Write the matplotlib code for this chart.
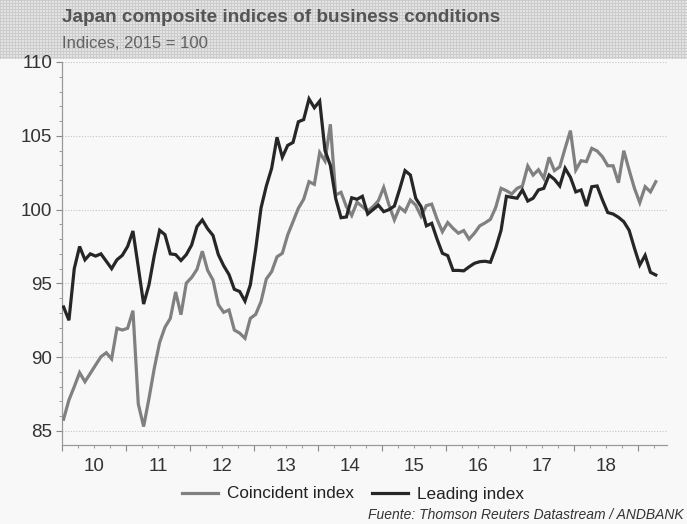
import numpy as np
import matplotlib
matplotlib.use("Agg")
import matplotlib.pyplot as plt
from matplotlib.ticker import MultipleLocator, FuncFormatter

plt.rcParams['font.family'] = ['Liberation Sans', 'DejaVu Sans']

# ---------------- data (monthly, Jan 2010 .. Apr 2019) ----------------
start_year = 2010
coincident = [
    85.8, 87.1, 88.0, 88.95, 88.34, 88.9, 89.47, 90.03, 90.3, 89.88, 91.96, 91.84,
    91.96, 93.15, 86.83, 85.3, 87.2, 89.25, 91.0, 92.03, 92.63, 94.42, 92.88, 95.02,
    95.4, 95.95, 97.18, 95.88, 95.23, 93.56, 93.04, 93.2, 91.84, 91.63, 91.28, 92.63,
    92.9, 93.76, 95.3, 95.8, 96.8, 97.04, 98.28, 99.18, 100.09, 100.7, 101.89, 101.71,
    103.86, 103.29, 105.78, 100.99, 101.17, 100.2, 99.6, 100.5, 100.2, 99.9, 100.2, 100.6,
    101.5, 100.3, 99.3, 100.15, 99.86, 100.65, 100.3, 99.55, 100.27, 100.37, 99.35, 98.5,
    99.12, 98.73, 98.4, 98.58, 98.0, 98.4, 98.9, 99.1, 99.34, 100.15, 101.44, 101.28,
    101.06, 101.44, 101.6, 102.95, 102.34, 102.7, 102.12, 103.54, 102.64, 102.9, 104.15, 105.35,
    102.68, 103.31, 103.25, 104.15, 103.97, 103.58, 102.97, 102.97, 101.82, 103.99, 102.68, 101.44,
    100.47, 101.55, 101.2, 101.89,
]
leading = [
    93.4, 92.5, 96.0, 97.5, 96.6, 97.0, 96.85, 97.0, 96.5, 96.0, 96.6, 96.9,
    97.5, 98.55, 96.1, 93.6, 94.9, 96.9, 98.6, 98.3, 97.0, 96.95, 96.55, 96.95,
    97.6, 98.85, 99.3, 98.7, 98.25, 96.95, 96.2, 95.6, 94.6, 94.45, 93.8, 94.9,
    97.3, 100.1, 101.6, 102.8, 104.9, 103.55, 104.35, 104.55, 105.95, 106.1, 107.5, 106.9,
    107.35, 104.0, 103.0, 100.75, 99.45, 99.5, 100.8, 100.7, 100.9, 99.7, 100.0, 100.3,
    99.86, 100.0, 100.24, 101.4, 102.64, 102.34, 100.77, 100.2, 98.9, 99.07, 98.0, 97.04,
    96.88, 95.88, 95.88, 95.85, 96.12, 96.36, 96.47, 96.5, 96.43, 97.4, 98.6, 100.9,
    100.83, 100.77, 101.33, 100.58, 100.77, 101.33, 101.44, 102.34, 102.05, 101.6, 102.8, 102.19,
    101.2, 101.33, 100.24, 101.55, 101.6, 100.65, 99.8, 99.7, 99.48, 99.18, 98.6, 97.38,
    96.25, 96.9, 95.75, 95.57,
]
year_labels = ['10', '11', '12', '13', '14', '15', '16', '17', '18']
series_names = ['Coincident index', 'Leading index']
title = 'Japan composite indices of business conditions'
subtitle = 'Indices, 2015 = 100'
source = 'Fuente: Thomson Reuters Datastream / ANDBANK'

# ---------------- figure ----------------
W, H = 687, 524
bg = '#f8f8f8'
fig = plt.figure(figsize=(W / 100, H / 100), dpi=100, facecolor=bg)

# patterned header band
band_h = 59
hy, hx = np.mgrid[0:band_h, 0:W]
pat = np.full((band_h, W), 0.89)
pat[(hy % 3 == 0) | (hx % 3 == 0)] = 0.80
hax = fig.add_axes([0, 1 - band_h / H, 1, band_h / H], zorder=0)
hax.imshow(pat, cmap='gray', vmin=0, vmax=1, aspect='auto', interpolation='nearest')
hax.axis('off')

fig.text(62 / W, 1 - 18 / H, title, fontsize=13.7, fontweight='bold',
         color='#555555', ha='left', va='center', zorder=5)
fig.text(62 / W, 1 - 44 / H, subtitle, fontsize=12, color='#626262',
         ha='left', va='center', zorder=5)

ax = fig.add_axes([62 / W, 79 / H, (667 - 62) / W, (445 - 62) / H], zorder=2)
ax.set_facecolor(bg)

n = len(leading)
x = start_year + (np.arange(n) + 0.3) / 12.0

ax.plot(x, coincident, color='#808080', lw=2.3, label=series_names[0],
        solid_joinstyle='miter', zorder=3)
ax.plot(x, leading, color='#262626', lw=2.3, label=series_names[1],
        solid_joinstyle='miter', zorder=4)

ax.set_ylim(84.05, 110)
ax.set_xlim(start_year, start_year + 9.45)

ax.yaxis.set_major_locator(MultipleLocator(5))
ax.yaxis.set_minor_locator(MultipleLocator(1))
ax.xaxis.set_major_locator(MultipleLocator(1))
ax.xaxis.set_minor_locator(MultipleLocator(0.25))
ax.xaxis.set_major_formatter(FuncFormatter(lambda v, p: ''))


def minor_fmt(v, p):
    frac = v - np.floor(v + 1e-9)
    if abs(frac - 0.5) < 1e-6:
        idx = int(np.floor(v)) - start_year
        if 0 <= idx < len(year_labels):
            return year_labels[idx]
    return ''


ax.xaxis.set_minor_formatter(FuncFormatter(minor_fmt))

ax.tick_params(axis='y', which='major', length=4, width=0.8, color='#888888',
               labelsize=13.5, labelcolor='#333333', pad=3)
ax.tick_params(axis='y', which='minor', length=2.5, width=0.7, color='#999999')
ax.tick_params(axis='x', which='major', length=4, width=0.8, color='#888888')
ax.tick_params(axis='x', which='minor', length=2.5, width=0.7, color='#999999',
               labelsize=13.5, labelcolor='#333333', pad=7)

for s in ['top', 'right']:
    ax.spines[s].set_visible(False)
for s in ['left', 'bottom']:
    ax.spines[s].set_color('#999999')
    ax.spines[s].set_linewidth(0.9)

ax.grid(axis='y', which='major', linestyle=(0, (1, 1.5)), color='#c4c4c4', lw=0.8)
ax.set_axisbelow(True)

handles, labels = ax.get_legend_handles_labels()
fig.legend(handles, labels, loc='center', bbox_to_anchor=(353 / W, 1 - 494 / H),
           ncol=2, frameon=False, fontsize=12.3, handlelength=2.1,
           handletextpad=0.5, columnspacing=1.1, labelcolor='#222222')

fig.text(684 / W, 1 - 515 / H, source, fontsize=10, style='italic',
         color='#333333', ha='right', va='center')

fig.savefig('out.png', dpi=100, facecolor=bg)
